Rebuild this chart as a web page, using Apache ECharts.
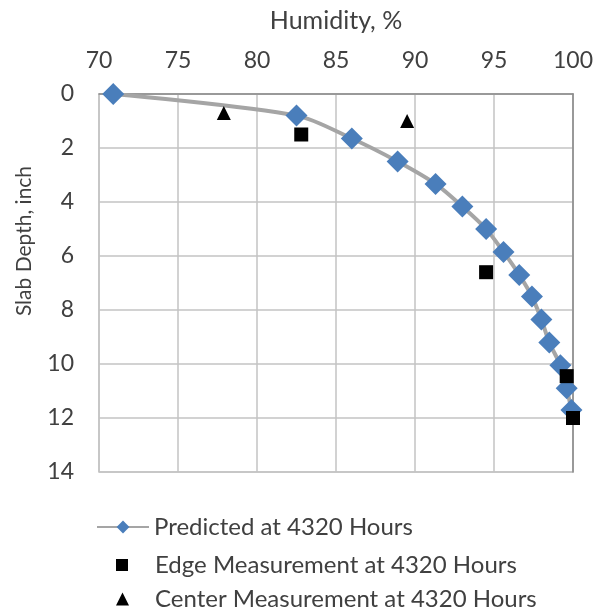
<!DOCTYPE html>
<html>
<head>
<meta charset="utf-8">
<script src="https://cdn.jsdelivr.net/npm/echarts@6/dist/echarts.min.js"></script>
<style>
  html, body { margin: 0; padding: 0; background: #fff; }
  #chart { width: 597px; height: 612px; }
</style>
</head>
<body>
<div id="chart"></div>
<script>
// Humidity (%) vs. slab depth (inch)
const predictedHumidity = [70.9, 82.5, 86.0, 88.9, 91.3, 93.0, 94.5, 95.6, 96.6, 97.4, 98.0, 98.5, 99.2, 99.6, 99.9];
const predictedDepth    = [0, 0.8, 1.65, 2.5, 3.33, 4.17, 5.0, 5.85, 6.7, 7.5, 8.35, 9.2, 10.05, 10.9, 11.7];
const edgeHumidity      = [82.8, 94.5, 99.6, 100];
const edgeDepth         = [1.5, 6.6, 10.45, 12];
const centerHumidity    = [77.9, 89.5];
const centerDepth       = [0.7, 1.0];
const xTicks = [70, 75, 80, 85, 90, 95, 100];
const yTicks = [0, 2, 4, 6, 8, 10, 12, 14];

const seriesNames = [
  'Predicted at 4320 Hours',
  'Edge Measurement at 4320 Hours',
  'Center Measurement at 4320 Hours'
];

const pairs = (xs, ys) => xs.map((x, i) => [x, ys[i]]);

const FONT = 'Lato, "Open Sans", sans-serif';
const TXT = '#404040';
const GRID = '#c3c3c3';
const LEGEND_FONT = 24;

// One legend block per entry so each marker keeps its own size
function legendRow(name, top, left, w, h, padLeft) {
  return {
    orient: 'horizontal', left: left, top: top,
    itemWidth: w, itemHeight: h, padding: 0,
    textStyle: { color: TXT, fontSize: LEGEND_FONT, fontFamily: FONT, padding: [0, 0, 0, padLeft] },
    data: [{ name: name }]
  };
}

const chart = echarts.init(document.getElementById('chart'), null, { renderer: 'canvas' });
chart.setOption({
  animation: false,
  backgroundColor: '#fff',
  textStyle: { fontFamily: FONT },
  grid: {
    left: 99, right: 24, top: 94, bottom: 140,
    outerBoundsMode: 'none', containLabel: false,
    show: true, borderColor: GRID, borderWidth: 1.5
  },
  xAxis: [{
    type: 'value', position: 'top',
    min: xTicks[0], max: xTicks[xTicks.length - 1], interval: 5,
    name: 'Humidity, %', nameLocation: 'middle', nameGap: 61,
    nameTextStyle: { color: TXT, fontSize: 25, fontFamily: FONT },
    axisLine: { show: false }, axisTick: { show: false },
    axisLabel: { color: TXT, fontSize: 23, margin: 22, fontFamily: FONT },
    splitLine: { show: true, lineStyle: { color: GRID, width: 1.5 } }
  }, {
    type: 'value', position: 'bottom',
    min: xTicks[0], max: xTicks[xTicks.length - 1],
    axisLine: { show: true, lineStyle: { color: '#8a8a8a', width: 1.5 } },
    axisTick: { show: false }, axisLabel: { show: false }, splitLine: { show: false }
  }],
  yAxis: [{
    type: 'value', inverse: true,
    min: yTicks[0], max: yTicks[yTicks.length - 1], interval: 2,
    name: 'Slab Depth, inch', nameLocation: 'middle', nameGap: 64, nameRotate: 90,
    nameTextStyle: { color: TXT, fontSize: 21, fontFamily: FONT, padding: [0, 0, 0, 84] },
    axisLine: { show: false }, axisTick: { show: false },
    axisLabel: { color: TXT, fontSize: 23, margin: 25, fontFamily: FONT },
    splitLine: { show: true, lineStyle: { color: GRID, width: 1.5 } }
  }, {
    type: 'value', inverse: true, position: 'right',
    min: yTicks[0], max: yTicks[yTicks.length - 1],
    axisLine: { show: true, lineStyle: { color: '#8a8a8a', width: 1.5 } },
    axisTick: { show: false }, axisLabel: { show: false }, splitLine: { show: false }
  }],
  legend: [
    legendRow(seriesNames[0], 515, 96, 52, 16, 0),
    legendRow(seriesNames[1], 553, 116, 12, 12, 22),
    legendRow(seriesNames[2], 587, 116, 13, 13, 21)
  ],
  series: [{
    name: seriesNames[0], type: 'line',
    data: pairs(predictedHumidity, predictedDepth),
    smooth: 0.3,
    lineStyle: { color: '#a5a5a5', width: 4 },
    symbol: 'diamond', symbolSize: 22,
    itemStyle: { color: '#4a7ebb' },
    z: 2
  }, {
    name: seriesNames[1], type: 'scatter',
    data: pairs(edgeHumidity, edgeDepth),
    symbol: 'rect', symbolSize: 14,
    itemStyle: { color: '#000', opacity: 1 },
    z: 3
  }, {
    name: seriesNames[2], type: 'scatter',
    data: pairs(centerHumidity, centerDepth),
    symbol: 'triangle', symbolSize: 14,
    itemStyle: { color: '#000', opacity: 1 },
    z: 3
  }]
});
</script>
</body>
</html>
